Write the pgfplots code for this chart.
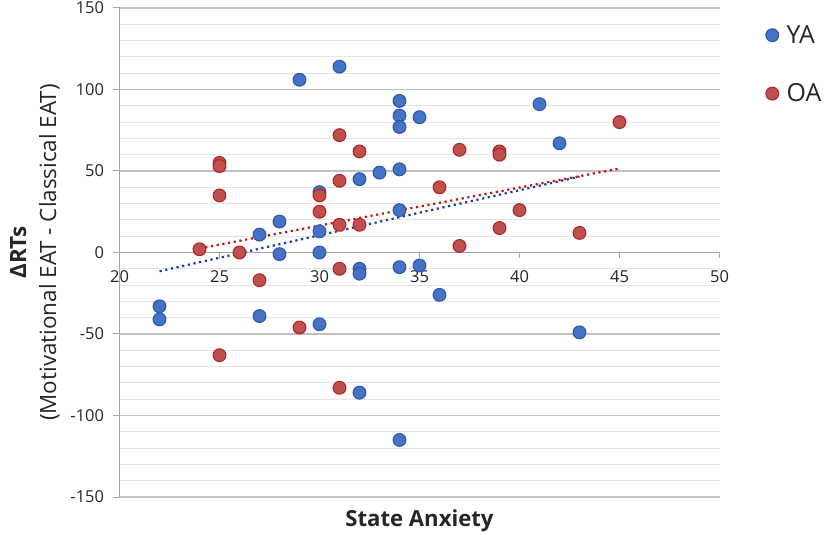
\documentclass[border=0pt]{standalone}
\usepackage{pgfplots}
\pgfplotsset{compat=1.18}
\usepackage{fontspec}
\setmainfont{Open Sans}
\definecolor{yafill}{RGB}{69,114,196}
\definecolor{yaedge}{RGB}{47,88,170}
\definecolor{oafill}{RGB}{192,80,77}
\definecolor{oaedge}{RGB}{172,40,40}
\definecolor{yatrend}{RGB}{20,60,170}
\definecolor{oatrend}{RGB}{192,20,20}
\definecolor{axgray}{RGB}{165,165,165}
\definecolor{majgrid}{RGB}{192,192,192}
\definecolor{mingrid}{RGB}{228,228,228}
\begin{document}
\begin{tikzpicture}
\path[use as bounding box] (0bp,0bp) rectangle (829bp,535bp);
\begin{axis}[
  at={(119.5bp,38bp)}, anchor=south west,
  scale only axis, width=600bp, height=489bp,
  xmin=20, xmax=50, ymin=-150, ymax=150,
  axis x line=middle, axis y line=left,
  hide obscured x ticks=false,
  axis line style={-, draw=axgray, line width=1.1bp},
  xtick={20,25,...,50}, ytick={-150,-100,...,150},
  minor ytick={-140,-130,-120,-110,-90,-80,-70,-60,-40,-30,-20,-10,10,20,30,40,60,70,80,90,110,120,130,140},
  ymajorgrids, yminorgrids,
  major grid style={draw=majgrid, line width=1.1bp},
  minor grid style={draw=mingrid, line width=1.1bp},
  tick align=outside, major tick length=6bp, minor tick length=0bp,
  tick style={draw=axgray, line width=1bp},
  /pgf/number format/assume math mode=true,
  tick label style={font=\fontsize{16.5}{18}\selectfont, text=black!85},
  yticklabel style={xshift=-6bp},
  xticklabel style={yshift=-9bp},
  xlabel={\textbf{State Anxiety}},
  xlabel style={at={(axis description cs:0.5,0)}, anchor=north, yshift=-9bp, font=\fontsize{22.2}{25}\selectfont, text=black!85},
  ylabel={\textbf{ΔRTs}\\(Motivational EAT - Classical EAT)},
  ylabel style={at={(axis description cs:-0.141,0.5)}, anchor=center, align=center, font=\fontsize{22.5}{30}\selectfont, text=black!85},
  legend style={at={(axis description cs:1.072,0.8845)}, anchor=west, draw=none, fill=none,
    font=\fontsize{25}{28}\selectfont, row sep=35bp, text=black!85},
  legend cell align=left,
  legend image code/.code={\draw[mark repeat=2,mark phase=2,#1] plot coordinates {(0cm,0cm)(0.2cm,0cm)(0.4cm,0cm)};},
]
\addplot[only marks, mark=*, mark size=6.4bp, mark options={fill=yafill, draw=yaedge, line width=1.1bp}] coordinates {
(22,-33) (22,-41) (27,-39) (27,11) (28,19) (28,-1) (29,106) (30,37) (30,13) (30,0) (30,-44)
(31,114) (32,45) (32,-10) (32,-13) (32,-86) (33,49) (34,93) (34,84) (34,77) (34,51) (34,26)
(34,-9) (34,-115) (35,83) (35,-8) (36,-26) (41,91) (42,67) (43,-49)
};
\addlegendentry{\hspace*{6bp}YA}
\addplot[only marks, mark=*, mark size=6.4bp, mark options={fill=oafill, draw=oaedge, line width=1.1bp}] coordinates {
(24,2) (25,55) (25,53) (25,35) (25,-63) (26,0) (27,-17) (29,-46) (30,35) (30,25) (31,72)
(31,44) (31,17) (31,-10) (31,-83) (32,62) (32,17) (36,40) (37,63) (37,4) (39,62) (39,60)
(39,15) (40,26) (43,12) (45,80)
};
\addlegendentry{\hspace*{6bp}OA}
\addplot[forget plot, draw=yatrend, line width=2.2bp, dash pattern=on 2.2bp off 3.6bp] coordinates {(22,-11.5) (43,46.5)};
\addplot[forget plot, draw=oatrend, line width=2.2bp, dash pattern=on 2.2bp off 3.6bp] coordinates {(24,2.5) (45,51.5)};
\end{axis}
\end{tikzpicture}
\end{document}
